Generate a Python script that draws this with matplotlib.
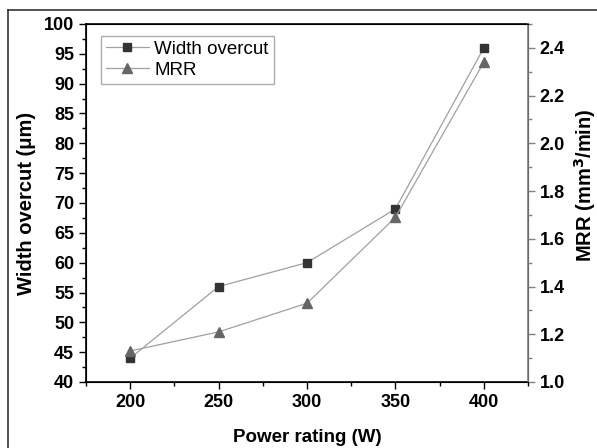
import matplotlib
matplotlib.use('Agg')
import matplotlib.pyplot as plt
from matplotlib.lines import Line2D
from matplotlib.ticker import MultipleLocator

plt.rcParams['font.family'] = ['Liberation Sans', 'DejaVu Sans']
plt.rcParams['font.weight'] = 'bold'

# data
power = [200, 250, 300, 350, 400]
width_overcut = [44, 56, 60, 69, 96]
mrr = [1.13, 1.21, 1.33, 1.69, 2.34]

fig = plt.figure(figsize=(5.97, 4.48), dpi=100)
ax = fig.add_axes([86/597, 1 - 382/448, (528-86)/597, (382-24)/448])
ax2 = ax.twinx()

ax.plot(power, width_overcut, color='#a0a0a0', lw=0.9, marker='s', ms=6,
        mfc='#333333', mec='#333333', label='Width overcut', zorder=3)
ax2.plot(power, mrr, color='#a0a0a0', lw=0.9, marker='^', ms=7,
         mfc='#666666', mec='#666666', label='MRR', zorder=3)

ax.set_xlim(175, 425)
ax.set_ylim(40, 100)
ax2.set_ylim(1.0, 2.5)

ax.xaxis.set_major_locator(MultipleLocator(50))
ax.xaxis.set_minor_locator(MultipleLocator(25))
ax.yaxis.set_major_locator(MultipleLocator(5))
ax.yaxis.set_minor_locator(MultipleLocator(2.5))
ax2.yaxis.set_major_locator(MultipleLocator(0.2))
ax2.yaxis.set_minor_locator(MultipleLocator(0.1))

for a in (ax, ax2):
    a.tick_params(which='major', direction='out', length=5, width=1,
                  labelsize=13)
    a.tick_params(which='minor', direction='out', length=3, width=1)

ax.tick_params(axis='x', which='both', top=False)
ax2.tick_params(axis='y', which='both', colors='#808080', labelcolor='black')
ax2.spines['right'].set_color('#808080')
ax2.spines['right'].set_linewidth(1.2)
for s in ('left', 'bottom', 'top'):
    ax.spines[s].set_linewidth(1.2)

ax.set_xlabel('Power rating (W)', fontsize=13.5, fontweight='bold', labelpad=13)
ax.set_ylabel('Width overcut (\u03bcm)', fontsize=14.5, fontweight='bold', labelpad=6)
ax2.set_ylabel('MRR (mm$^\\mathbf{3}$/min)', fontsize=14.5, fontweight='bold')
ax2.yaxis.set_label_coords(1.1, 0.55)

h1, l1 = ax.get_legend_handles_labels()
h2, l2 = ax2.get_legend_handles_labels()
leg = ax.legend(h1 + h2, l1 + l2, loc='upper left', bbox_to_anchor=(0.034, 0.966),
                borderaxespad=0, prop={'size': 13.5, 'weight': 'normal'},
                frameon=True, fancybox=False, edgecolor='#999999',
                handlelength=2.3, borderpad=0.25, labelspacing=0.2,
                handletextpad=0.3)
leg.get_frame().set_linewidth(1)

# outer frame lines (top and left)
fig.add_artist(Line2D([8/597, 1], [1 - 10/448, 1 - 10/448], color='#333333', lw=1.2))
fig.add_artist(Line2D([8/597, 8/597], [0, 1 - 10/448], color='#333333', lw=1.2))

fig.savefig('out.png', dpi=100)
